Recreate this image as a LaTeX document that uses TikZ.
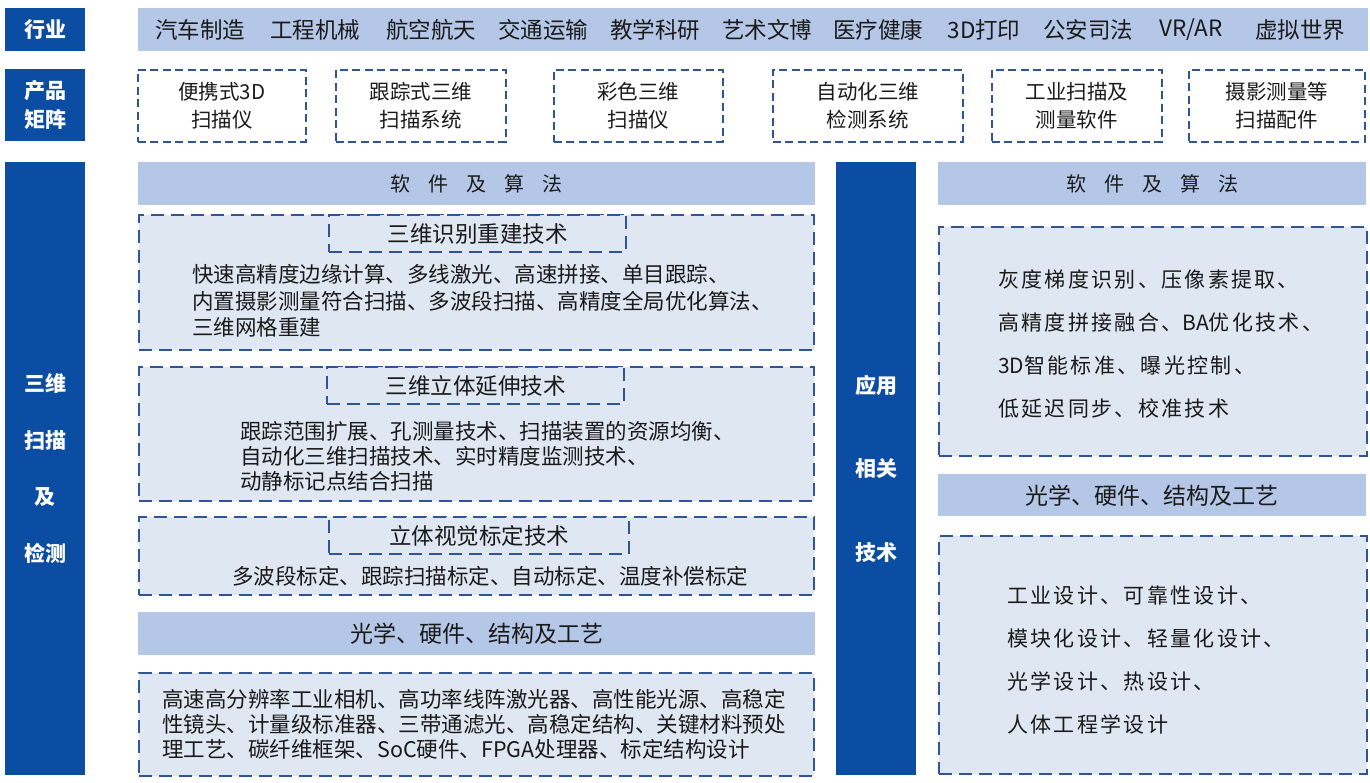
\documentclass[tikz,border=0pt]{standalone}
\usepackage{fontspec}
\setmainfont{Noto Sans CJK SC}
\newfontfamily\spacedcjk[LetterSpace=11]{Noto Sans CJK SC}
\newfontfamily\plaincjk{Noto Sans CJK SC}
\definecolor{dblue}{HTML}{0B4DA2}
\definecolor{lblue}{HTML}{B4C7E7}
\definecolor{pfill}{HTML}{DFE7F3}
\definecolor{dline}{HTML}{2F5597}
\definecolor{txt}{HTML}{1A1A1A}
\tikzset{
  sidebar/.style={fill=dblue, draw=none, anchor=north west, inner sep=0pt, text=white, align=center},
  bar/.style={fill=lblue, draw=none, anchor=north west, inner sep=0pt, text=txt},
  dbox/.style={draw=dline, line width=2.1pt, dash pattern=on 13pt off 7pt, anchor=north west, inner sep=0pt},
  prodbox/.style={draw=dline, line width=1.8pt, dash pattern=on 8pt off 4.5pt, anchor=north west, inner sep=0pt, fill=white, align=center, text=txt, font=\fontsize{20.5}{28}\selectfont},
  panel/.style={dbox, fill=pfill},
  titlebox/.style={dbox, fill=pfill, text=txt, font=\fontsize{22.5}{24}\selectfont},
  body/.style={anchor=west, align=left, inner sep=0pt, text=txt},
  ind/.style={inner sep=0pt, text=txt, font=\fontsize{22.5}{24}\selectfont},
  hdr/.style={font=\fontsize{20}{24}\selectfont},
  hdrb/.style={font=\fontsize{23}{24}\selectfont}
}
\newcommand{\hsp}{\hspace{18pt}}
\begin{document}
\begin{tikzpicture}[x=1pt,y=-1pt]
\useasboundingbox (0,0) rectangle (1370,783);
% row 1: industry
\node[sidebar, minimum width=80pt, minimum height=43pt, font=\fontsize{21}{24}\selectfont\bfseries] (lab1) at (5,8) {行业};
\node[bar, minimum width=1230pt, minimum height=43pt] (indbar) at (138,8) {};
\node[ind] (i1) at (200,30) {汽车制造};
\node[ind] (i2) at (315,30) {工程机械};
\node[ind] (i3) at (431,30) {航空航天};
\node[ind] (i4) at (543,30) {交通运输};
\node[ind] (i5) at (655,30) {教学科研};
\node[ind] (i6) at (767,30) {艺术文博};
\node[ind] (i7) at (878,30) {医疗健康};
\node[ind] (i8) at (984,30) {3D打印};
\node[ind] (i9) at (1088,30) {公安司法};
\node[ind] (i10) at (1191,30) {VR/AR};
\node[ind] (i11) at (1300,30) {虚拟世界};
% row 2: products
\node[sidebar, minimum width=80pt, minimum height=72pt, font=\fontsize{21}{29}\selectfont\bfseries] (lab2) at (5,69) {产品\\矩阵};
\node[prodbox, minimum width=168pt, minimum height=72pt] (p1) at (137,69) {便携式3D\\扫描仪};
\node[prodbox, minimum width=170pt, minimum height=72pt] (p2) at (335,69) {跟踪式三维\\扫描系统};
\node[prodbox, minimum width=169pt, minimum height=72pt] (p3) at (553,69) {彩色三维\\扫描仪};
\node[prodbox, minimum width=190pt, minimum height=72pt] (p4) at (772,69) {自动化三维\\检测系统};
\node[prodbox, minimum width=170pt, minimum height=72pt] (p5) at (991,69) {工业扫描及\\测量软件};
\node[prodbox, minimum width=176pt, minimum height=72pt] (p6) at (1188,69) {摄影测量等\\扫描配件};
% left side column
\node[sidebar, minimum width=80pt, minimum height=613pt, font=\fontsize{21}{56.5}\selectfont\bfseries] (lab3) at (5,162) {三维\\扫描\\及\\检测};
\node[bar, minimum width=677pt, minimum height=43pt, hdr] (hl1) at (138,162) {软\hsp 件\hsp 及\hsp 算\hsp 法};
% panel 1
\node[panel, minimum width=675pt, minimum height=135pt] (pa1) at (138,214) {};
\node[titlebox, minimum width=297pt, minimum height=37pt] (ta1) at (328,214) {三维识别重建技术};
\node[body, font=\fontsize{21.5}{26.5}\selectfont] (ba1) at (192,301) {快速高精度边缘计算、多线激光、高速拼接、单目跟踪、\\内置摄影测量符合扫描、多波段扫描、高精度全局优化算法、\\三维网格重建};
% panel 2
\node[panel, minimum width=675pt, minimum height=134pt] (pa2) at (138,366) {};
\node[titlebox, minimum width=297pt, minimum height=37pt] (ta2) at (326,366) {三维立体延伸技术};
\node[body, font=\fontsize{21.5}{25}\selectfont] (ba2) at (240,456) {跟踪范围扩展、孔测量技术、扫描装置的资源均衡、\\自动化三维扫描技术、实时精度监测技术、\\动静标记点结合扫描};
% panel 3
\node[panel, minimum width=675pt, minimum height=78pt] (pa3) at (138,516) {};
\node[titlebox, minimum width=300pt, minimum height=37pt] (ta3) at (328,516) {立体视觉标定技术};
\node[body, font=\fontsize{21.5}{25}\selectfont] (ba3) at (232,576) {多波段标定、跟踪扫描标定、自动标定、温度补偿标定};
% hardware header + panel 4
\node[bar, minimum width=677pt, minimum height=43pt, hdrb] (hl2) at (138,612) {光学、硬件、结构及工艺};
\node[panel, minimum width=675pt, minimum height=103pt] (pa4) at (138,672) {};
\node[body, font=\fontsize{21.5}{25}\selectfont] (ba4) at (162,724) {高速高分辨率工业相机、高功率线阵激光器、高性能光源、高稳定\\性镜头、计量级标准器、三带通滤光、高稳定结构、关键材料预处\\理工艺、碳纤维框架、SoC硬件、FPGA处理器、标定结构设计};
% middle column
\node[sidebar, minimum width=80pt, minimum height=613pt, font=\fontsize{21}{83.5}\selectfont\bfseries] (lab4) at (836,162) {应用\\相关\\技术};
% right side
\node[bar, minimum width=428pt, minimum height=43pt, hdr] (hr1) at (938,162) {软\hsp 件\hsp 及\hsp 算\hsp 法};
\node[panel, minimum width=428pt, minimum height=229pt] (pr1) at (938,226) {};
\node[body, font=\spacedcjk\fontsize{21}{43}\selectfont] (br1) at (998,344) {灰度梯度识别、压像素提取、\\高精度拼接融合、{\plaincjk BA}优化技术、\\{\plaincjk 3D}智能标准、曝光控制、\\低延迟同步、校准技术};
\node[bar, minimum width=428pt, minimum height=42pt, hdrb] (hr2) at (938,474) {光学、硬件、结构及工艺};
\node[panel, minimum width=428pt, minimum height=238pt] (pr2) at (938,535) {};
\node[body, font=\spacedcjk\fontsize{21}{43}\selectfont] (br2) at (1007,660) {工业设计、可靠性设计、\\模块化设计、轻量化设计、\\光学设计、热设计、\\人体工程学设计};
\end{tikzpicture}
\end{document}
